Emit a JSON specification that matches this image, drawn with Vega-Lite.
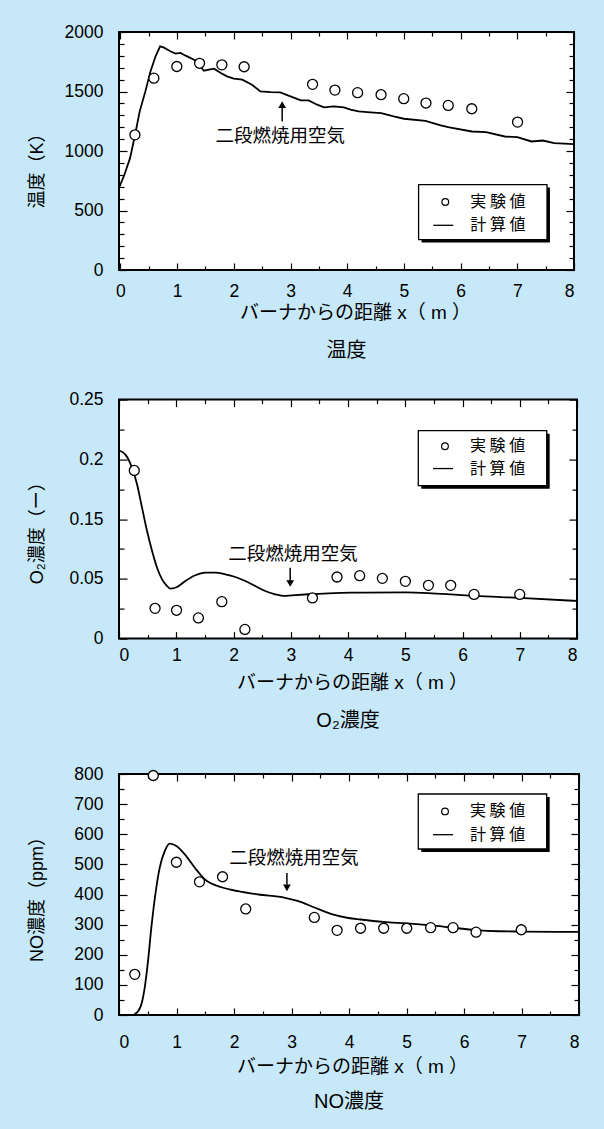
{
  "$schema": "https://vega.github.io/schema/vega-lite/v6.json",
  "background": "#c6e8f9",
  "padding": {"left": 26, "top": 22, "right": 20, "bottom": 17},
  "spacing": 129.6,
  "bounds": "flush",
  "datasets": {
    "temp": [
      {"x": -0.025, "y": 690, "series": "計算値"},
      {"x": 0.07, "y": 800, "series": "計算値"},
      {"x": 0.17, "y": 940, "series": "計算値"},
      {"x": 0.26, "y": 1140, "series": "計算値"},
      {"x": 0.34, "y": 1333, "series": "計算値"},
      {"x": 0.44, "y": 1501, "series": "計算値"},
      {"x": 0.53, "y": 1669, "series": "計算値"},
      {"x": 0.62, "y": 1796, "series": "計算値"},
      {"x": 0.70, "y": 1880, "series": "計算値"},
      {"x": 0.76, "y": 1871, "series": "計算値"},
      {"x": 0.88, "y": 1838, "series": "計算値"},
      {"x": 0.97, "y": 1818, "series": "計算値"},
      {"x": 1.06, "y": 1824, "series": "計算値"},
      {"x": 1.15, "y": 1801, "series": "計算値"},
      {"x": 1.24, "y": 1781, "series": "計算値"},
      {"x": 1.35, "y": 1753, "series": "計算値"},
      {"x": 1.47, "y": 1675, "series": "計算値"},
      {"x": 1.56, "y": 1684, "series": "計算値"},
      {"x": 1.65, "y": 1692, "series": "計算値"},
      {"x": 1.77, "y": 1655, "series": "計算値"},
      {"x": 1.88, "y": 1627, "series": "計算値"},
      {"x": 2.00, "y": 1608, "series": "計算値"},
      {"x": 2.15, "y": 1600, "series": "計算値"},
      {"x": 2.32, "y": 1557, "series": "計算値"},
      {"x": 2.47, "y": 1501, "series": "計算値"},
      {"x": 2.65, "y": 1495, "series": "計算値"},
      {"x": 2.82, "y": 1493, "series": "計算値"},
      {"x": 3.00, "y": 1459, "series": "計算値"},
      {"x": 3.18, "y": 1425, "series": "計算値"},
      {"x": 3.32, "y": 1425, "series": "計算値"},
      {"x": 3.47, "y": 1389, "series": "計算値"},
      {"x": 3.59, "y": 1366, "series": "計算値"},
      {"x": 3.76, "y": 1375, "series": "計算値"},
      {"x": 3.94, "y": 1366, "series": "計算値"},
      {"x": 4.06, "y": 1347, "series": "計算値"},
      {"x": 4.20, "y": 1333, "series": "計算値"},
      {"x": 4.41, "y": 1325, "series": "計算値"},
      {"x": 4.60, "y": 1318, "series": "計算値"},
      {"x": 4.82, "y": 1290, "series": "計算値"},
      {"x": 5.00, "y": 1271, "series": "計算値"},
      {"x": 5.38, "y": 1254, "series": "計算値"},
      {"x": 5.65, "y": 1215, "series": "計算値"},
      {"x": 5.80, "y": 1198, "series": "計算値"},
      {"x": 6.20, "y": 1164, "series": "計算値"},
      {"x": 6.45, "y": 1158, "series": "計算値"},
      {"x": 6.78, "y": 1122, "series": "計算値"},
      {"x": 7.00, "y": 1116, "series": "計算値"},
      {"x": 7.25, "y": 1080, "series": "計算値"},
      {"x": 7.45, "y": 1088, "series": "計算値"},
      {"x": 7.65, "y": 1066, "series": "計算値"},
      {"x": 8.00, "y": 1057, "series": "計算値"},
      {"x": 0.256, "y": 1136, "series": "実験値"},
      {"x": 0.59, "y": 1612, "series": "実験値"},
      {"x": 0.995, "y": 1710, "series": "実験値"},
      {"x": 1.396, "y": 1737, "series": "実験値"},
      {"x": 1.789, "y": 1724, "series": "実験値"},
      {"x": 2.182, "y": 1708, "series": "実験値"},
      {"x": 3.389, "y": 1560, "series": "実験値"},
      {"x": 3.783, "y": 1512, "series": "実験値"},
      {"x": 4.183, "y": 1490, "series": "実験値"},
      {"x": 4.597, "y": 1473, "series": "実験値"},
      {"x": 4.997, "y": 1440, "series": "実験値"},
      {"x": 5.389, "y": 1403, "series": "実験値"},
      {"x": 5.782, "y": 1383, "series": "実験値"},
      {"x": 6.197, "y": 1355, "series": "実験値"},
      {"x": 7.004, "y": 1243, "series": "実験値"}
    ],
    "o2": [
      {"x": 0, "y": 0.2074, "series": "計算値"},
      {"x": 0.112, "y": 0.204, "series": "計算値"},
      {"x": 0.229, "y": 0.1928, "series": "計算値"},
      {"x": 0.316, "y": 0.179, "series": "計算値"},
      {"x": 0.403, "y": 0.1594, "series": "計算値"},
      {"x": 0.49, "y": 0.13, "series": "計算値"},
      {"x": 0.578, "y": 0.0965, "series": "計算値"},
      {"x": 0.665, "y": 0.0686, "series": "計算値"},
      {"x": 0.752, "y": 0.0496, "series": "計算値"},
      {"x": 0.84, "y": 0.044, "series": "計算値"},
      {"x": 0.898, "y": 0.0418, "series": "計算値"},
      {"x": 1.014, "y": 0.0432, "series": "計算値"},
      {"x": 1.16, "y": 0.0482, "series": "計算値"},
      {"x": 1.334, "y": 0.056, "series": "計算値"},
      {"x": 1.508, "y": 0.0603, "series": "計算値"},
      {"x": 1.683, "y": 0.0603, "series": "計算値"},
      {"x": 1.857, "y": 0.0576, "series": "計算値"},
      {"x": 2.032, "y": 0.0531, "series": "計算値"},
      {"x": 2.206, "y": 0.0482, "series": "計算値"},
      {"x": 2.38, "y": 0.044, "series": "計算値"},
      {"x": 2.555, "y": 0.0398, "series": "計算値"},
      {"x": 2.729, "y": 0.0371, "series": "計算値"},
      {"x": 2.876, "y": 0.0357, "series": "計算値"},
      {"x": 3.02, "y": 0.0362, "series": "計算値"},
      {"x": 3.31, "y": 0.0371, "series": "計算値"},
      {"x": 3.66, "y": 0.0379, "series": "計算値"},
      {"x": 4.07, "y": 0.0384, "series": "計算値"},
      {"x": 5.0, "y": 0.0386, "series": "計算値"},
      {"x": 5.4, "y": 0.0381, "series": "計算値"},
      {"x": 5.8, "y": 0.037, "series": "計算値"},
      {"x": 6.2, "y": 0.0357, "series": "計算値"},
      {"x": 7.0, "y": 0.0341, "series": "計算値"},
      {"x": 8.0, "y": 0.0315, "series": "計算値"},
      {"x": 0.267, "y": 0.1907, "series": "実験値"},
      {"x": 0.63, "y": 0.0253, "series": "実験値"},
      {"x": 1.005, "y": 0.0237, "series": "実験値"},
      {"x": 1.387, "y": 0.0173, "series": "実験値"},
      {"x": 1.796, "y": 0.0309, "series": "実験値"},
      {"x": 2.199, "y": 0.0077, "series": "実験値"},
      {"x": 3.379, "y": 0.034, "series": "実験値"},
      {"x": 3.808, "y": 0.0531, "series": "実験値"},
      {"x": 4.204, "y": 0.0553, "series": "実験値"},
      {"x": 4.6, "y": 0.0508, "series": "実験値"},
      {"x": 5.002, "y": 0.0479, "series": "実験値"},
      {"x": 5.405, "y": 0.0446, "series": "実験値"},
      {"x": 5.794, "y": 0.0446, "series": "実験値"},
      {"x": 6.202, "y": 0.037, "series": "実験値"},
      {"x": 7.0, "y": 0.037, "series": "実験値"}
    ],
    "no": [
      {"x": 0.26, "y": 0, "series": "計算値"},
      {"x": 0.376, "y": 28, "series": "計算値"},
      {"x": 0.446, "y": 89, "series": "計算値"},
      {"x": 0.504, "y": 178, "series": "計算値"},
      {"x": 0.562, "y": 289, "series": "計算値"},
      {"x": 0.632, "y": 400, "series": "計算値"},
      {"x": 0.708, "y": 489, "series": "計算値"},
      {"x": 0.795, "y": 544, "series": "計算値"},
      {"x": 0.882, "y": 569, "series": "計算値"},
      {"x": 0.998, "y": 561, "series": "計算値"},
      {"x": 1.144, "y": 533, "series": "計算値"},
      {"x": 1.318, "y": 489, "series": "計算値"},
      {"x": 1.493, "y": 450, "series": "計算値"},
      {"x": 1.783, "y": 424, "series": "計算値"},
      {"x": 2.073, "y": 411, "series": "計算値"},
      {"x": 2.42, "y": 400, "series": "計算値"},
      {"x": 2.888, "y": 389, "series": "計算値"},
      {"x": 3.12, "y": 378, "series": "計算値"},
      {"x": 3.41, "y": 356, "series": "計算値"},
      {"x": 3.70, "y": 335, "series": "計算値"},
      {"x": 3.99, "y": 322, "series": "計算値"},
      {"x": 4.2, "y": 317, "series": "計算値"},
      {"x": 4.6, "y": 309, "series": "計算値"},
      {"x": 5.0, "y": 304, "series": "計算値"},
      {"x": 5.4, "y": 298, "series": "計算値"},
      {"x": 5.8, "y": 290, "series": "計算値"},
      {"x": 6.2, "y": 282, "series": "計算値"},
      {"x": 6.6, "y": 278, "series": "計算値"},
      {"x": 7.0, "y": 277, "series": "計算値"},
      {"x": 8.0, "y": 276, "series": "計算値"},
      {"x": 0.274, "y": 135, "series": "実験値"},
      {"x": 0.596, "y": 795, "series": "実験値"},
      {"x": 0.998, "y": 507, "series": "実験値"},
      {"x": 1.4, "y": 442, "series": "実験値"},
      {"x": 1.801, "y": 459, "series": "実験値"},
      {"x": 2.204, "y": 352, "series": "実験値"},
      {"x": 3.397, "y": 324, "series": "実験値"},
      {"x": 3.793, "y": 281, "series": "実験値"},
      {"x": 4.201, "y": 288, "series": "実験値"},
      {"x": 4.603, "y": 288, "series": "実験値"},
      {"x": 5.004, "y": 288, "series": "実験値"},
      {"x": 5.42, "y": 290, "series": "実験値"},
      {"x": 5.81, "y": 290, "series": "実験値"},
      {"x": 6.21, "y": 275, "series": "実験値"},
      {"x": 6.996, "y": 283, "series": "実験値"}
    ]
  },
  "vconcat": [
    {
      "width": 455,
      "height": 238,
      "data": {"name": "temp"},
      "title": {"text": "温度", "orient": "bottom", "offset": 18.5, "frame": "group"},
      "layer": [
        {
          "transform": [{"filter": "datum.series === '計算値'"}],
          "mark": {"type": "line", "stroke": "black", "strokeWidth": 1.8},
          "encoding": {
            "x": {"field": "x", "type": "quantitative", "scale": {"domain": [-0.025, 8], "nice": false, "zero": false},
              "axis": {"orient": "bottom", "values": [0,0.5,1,1.5,2,2.5,3,3.5,4,4.5,5,5.5,6,6.5,7,7.5,8],
                "labelExpr": "datum.value % 1 === 0 ? format(datum.value, 'd') : ''",
                "tickSize": {"condition": {"test": "datum.value % 1 === 0", "value": -7}, "value": -4},
                "labelPadding": 19, "labelFlush": true, "title": "バーナからの距離 x（ m ）", "titlePadding": 4, "titleX": 236}},
            "y": {"field": "y", "type": "quantitative", "scale": {"domain": [0, 2000], "nice": false},
              "axis": {"orient": "left", "values": [0,100,200,300,400,500,600,700,800,900,1000,1100,1200,1300,1400,1500,1600,1700,1800,1900,2000],
                "labelExpr": "datum.value % 500 === 0 ? format(datum.value, 'd') : ''",
                "tickSize": {"condition": {"test": "datum.value % 500 === 0", "value": -8}, "value": -5},
                "labelPadding": 24, "labelFlush": false, "title": "温度（K）", "titleX": -73, "titleY": 134}}
          }
        },
        {
          "transform": [{"filter": "datum.series === '実験値'"}],
          "mark": {"type": "point", "filled": true, "fill": "white", "stroke": "black", "strokeWidth": 1.3, "size": 100, "opacity": 1},
          "encoding": {
            "x": {"field": "x", "type": "quantitative",
              "axis": {"orient": "top", "values": [0,0.5,1,1.5,2,2.5,3,3.5,4,4.5,5,5.5,6,6.5,7,7.5,8], "labels": false, "title": null,
                "tickSize": {"condition": {"test": "datum.value % 1 === 0", "value": -7}, "value": -4}}},
            "y": {"field": "y", "type": "quantitative",
              "axis": {"orient": "right", "values": [0,100,200,300,400,500,600,700,800,900,1000,1100,1200,1300,1400,1500,1600,1700,1800,1900,2000], "labels": false, "title": null,
                "tickSize": {"condition": {"test": "datum.value % 500 === 0", "value": -8}, "value": -5}}}
          }
        },
        {
          "data": {"values": [{}]},
          "mark": {"type": "text", "font": "Noto Sans CJK JP", "fontSize": 18.5, "color": "black"},
          "encoding": {
            "x": {"datum": 2.82, "type": "quantitative", "axis": null},
            "y": {"datum": 1122, "type": "quantitative", "axis": null},
            "text": {"value": "二段燃焼用空気"}
          }
        },
        {
          "data": {"values": [{}]},
          "mark": {"type": "rule", "color": "black", "strokeWidth": 1.5},
          "encoding": {
            "x": {"datum": 2.853, "type": "quantitative", "axis": null},
            "y": {"datum": 1248, "type": "quantitative", "axis": null},
            "y2": {"datum": 1370}
          }
        },
        {
          "data": {"values": [{}]},
          "mark": {"type": "point", "shape": "triangle-up", "filled": true, "color": "black", "size": 60, "opacity": 1},
          "encoding": {
            "x": {"datum": 2.853, "type": "quantitative", "axis": null},
            "y": {"datum": 1389, "type": "quantitative", "axis": null}
          }
        },
        {
          "data": {"values": [{}]},
          "mark": {"type": "rect", "color": "black"},
          "encoding": {
            "x": {"datum": 5.312, "type": "quantitative", "axis": null}, "x2": {"datum": 7.576},
            "y": {"datum": 692.5, "type": "quantitative", "axis": null}, "y2": {"datum": 230.3}
          }
        },
        {
          "data": {"values": [{}]},
          "mark": {"type": "rect", "fill": "white", "stroke": "black", "strokeWidth": 1.3},
          "encoding": {
            "x": {"datum": 5.259, "type": "quantitative", "axis": null}, "x2": {"datum": 7.524},
            "y": {"datum": 717.7, "type": "quantitative", "axis": null}, "y2": {"datum": 255.5}
          }
        },
        {
          "data": {"values": [{}]},
          "mark": {"type": "point", "shape": "circle", "filled": true, "fill": "white", "stroke": "black", "strokeWidth": 1.2, "size": 45, "opacity": 1},
          "encoding": {
            "x": {"datum": 5.73, "type": "quantitative", "axis": null},
            "y": {"datum": 571.4, "type": "quantitative", "axis": null}
          }
        },
        {
          "data": {"values": [{}]},
          "mark": {"type": "rule", "color": "black", "strokeWidth": 1.3},
          "encoding": {
            "x": {"datum": 5.518, "type": "quantitative", "axis": null}, "x2": {"datum": 5.871},
            "y": {"datum": 375.6, "type": "quantitative", "axis": null}
          }
        },
        {
          "data": {"values": [{}]},
          "mark": {"type": "text", "font": "Noto Sans CJK JP", "fontSize": 16, "color": "black", "align": "left", "baseline": "middle"},
          "encoding": {
            "x": {"datum": 6.171, "type": "quantitative", "axis": null},
            "y": {"datum": 571.4, "type": "quantitative", "axis": null},
            "text": {"value": "実 験 値"}
          }
        },
        {
          "data": {"values": [{}]},
          "mark": {"type": "text", "font": "Noto Sans CJK JP", "fontSize": 16, "color": "black", "align": "left", "baseline": "middle"},
          "encoding": {
            "x": {"datum": 6.171, "type": "quantitative", "axis": null},
            "y": {"datum": 375.6, "type": "quantitative", "axis": null},
            "text": {"value": "計 算 値"}
          }
        }
      ],
      "resolve": {"axis": {"x": "independent", "y": "independent"}}
    },
    {
      "spacing": 135.4,
      "bounds": "flush",
      "vconcat": [
        {
          "width": 458,
          "height": 239,
          "data": {"name": "o2"},
          "title": {"text": "O₂濃度", "orient": "bottom", "offset": 18.5, "frame": "group"},
          "layer": [
            {
              "transform": [{"filter": "datum.series === '計算値'"}],
              "mark": {"type": "line", "stroke": "black", "strokeWidth": 1.8, "interpolate": "monotone"},
              "encoding": {
                "x": {"field": "x", "type": "quantitative", "scale": {"domain": [0, 8], "nice": false, "zero": false},
                  "axis": {"orient": "bottom", "values": [0,0.5,1,1.5,2,2.5,3,3.5,4,4.5,5,5.5,6,6.5,7,7.5,8],
                    "labelExpr": "datum.value % 1 === 0 ? format(datum.value, 'd') : ''",
                    "tickSize": {"condition": {"test": "datum.value % 1 === 0", "value": -7}, "value": -4},
                    "labelPadding": 14.5, "labelFlush": true, "title": "バーナからの距離 x（ m ）", "titlePadding": 10, "titleX": 233}},
                "y": {"field": "y", "type": "quantitative", "scale": {"domain": [0, 0.05, 0.15, 0.25], "range": [239, 179.25, 119.5, 0], "nice": false, "zero": false},
                  "axis": {"orient": "left", "values": [0,0.025,0.05,0.1,0.15,0.175,0.2,0.225,0.25],
                    "labelExpr": "indexof([0,0.05,0.15,0.2,0.25], datum.value) >= 0 ? format(datum.value, '~g') : ''",
                    "tickSize": {"condition": {"test": "indexof([0,0.05,0.15,0.2,0.25], datum.value) >= 0", "value": -8}, "value": -5},
                    "labelPadding": 24, "labelFlush": false, "title": "O₂濃度（ー）", "titleX": -73, "titleY": 128.7}}
              }
            },
            {
              "transform": [{"filter": "datum.series === '実験値'"}],
              "mark": {"type": "point", "filled": true, "fill": "white", "stroke": "black", "strokeWidth": 1.3, "size": 100, "opacity": 1},
              "encoding": {
                "x": {"field": "x", "type": "quantitative",
                  "axis": {"orient": "top", "values": [0,0.5,1,1.5,2,2.5,3,3.5,4,4.5,5,5.5,6,6.5,7,7.5,8], "labels": false, "title": null,
                    "tickSize": {"condition": {"test": "datum.value % 1 === 0", "value": -7}, "value": -4}}},
                "y": {"field": "y", "type": "quantitative",
                  "axis": {"orient": "right", "values": [0,0.025,0.05,0.1,0.15,0.175,0.2,0.225,0.25], "labels": false, "title": null,
                    "tickSize": {"condition": {"test": "indexof([0,0.05,0.15,0.2,0.25], datum.value) >= 0", "value": -8}, "value": -5}}}
              }
            },
            {
              "data": {"values": [{}]},
              "mark": {"type": "text", "font": "Noto Sans CJK JP", "fontSize": 18.5, "color": "black"},
              "encoding": {
                "x": {"datum": 3.04, "type": "quantitative", "axis": null},
                "y": {"datum": 0.092, "type": "quantitative", "axis": null},
                "text": {"value": "二段燃焼用空気"}
              }
            },
            {
              "data": {"values": [{}]},
              "mark": {"type": "rule", "color": "black", "strokeWidth": 1.5},
              "encoding": {
                "x": {"datum": 2.99, "type": "quantitative", "axis": null},
                "y": {"datum": 0.0686, "type": "quantitative", "axis": null},
                "y2": {"datum": 0.048}
              }
            },
            {
              "data": {"values": [{}]},
              "mark": {"type": "point", "shape": "triangle-down", "filled": true, "color": "black", "size": 60, "opacity": 1},
              "encoding": {
                "x": {"datum": 2.99, "type": "quantitative", "axis": null},
                "y": {"datum": 0.0461, "type": "quantitative", "axis": null}
              }
            },
            {
              "data": {"values": [{}]},
              "mark": {"type": "rect", "color": "black"},
              "encoding": {
                "x": {"datum": 5.28, "type": "quantitative", "axis": null}, "x2": {"datum": 7.523},
                "y": {"datum": 0.2215, "type": "quantitative", "axis": null}, "y2": {"datum": 0.1755}
              }
            },
            {
              "data": {"values": [{}]},
              "mark": {"type": "rect", "fill": "white", "stroke": "black", "strokeWidth": 1.3},
              "encoding": {
                "x": {"datum": 5.228, "type": "quantitative", "axis": null}, "x2": {"datum": 7.471},
                "y": {"datum": 0.2241, "type": "quantitative", "axis": null}, "y2": {"datum": 0.178}
              }
            },
            {
              "data": {"values": [{}]},
              "mark": {"type": "point", "shape": "circle", "filled": true, "fill": "white", "stroke": "black", "strokeWidth": 1.2, "size": 45, "opacity": 1},
              "encoding": {
                "x": {"datum": 5.694, "type": "quantitative", "axis": null},
                "y": {"datum": 0.2109, "type": "quantitative", "axis": null}
              }
            },
            {
              "data": {"values": [{}]},
              "mark": {"type": "rule", "color": "black", "strokeWidth": 1.3},
              "encoding": {
                "x": {"datum": 5.485, "type": "quantitative", "axis": null}, "x2": {"datum": 5.834},
                "y": {"datum": 0.1923, "type": "quantitative", "axis": null}
              }
            },
            {
              "data": {"values": [{}]},
              "mark": {"type": "text", "font": "Noto Sans CJK JP", "fontSize": 16, "color": "black", "align": "left", "baseline": "middle"},
              "encoding": {
                "x": {"datum": 6.131, "type": "quantitative", "axis": null},
                "y": {"datum": 0.2109, "type": "quantitative", "axis": null},
                "text": {"value": "実 験 値"}
              }
            },
            {
              "data": {"values": [{}]},
              "mark": {"type": "text", "font": "Noto Sans CJK JP", "fontSize": 16, "color": "black", "align": "left", "baseline": "middle"},
              "encoding": {
                "x": {"datum": 6.131, "type": "quantitative", "axis": null},
                "y": {"datum": 0.1923, "type": "quantitative", "axis": null},
                "text": {"value": "計 算 値"}
              }
            }
          ],
          "resolve": {"axis": {"x": "independent", "y": "independent"}}
        },
        {
          "width": 460,
          "height": 241,
          "data": {"name": "no"},
          "title": {"text": "NO濃度", "orient": "bottom", "offset": 15.5, "frame": "group"},
          "layer": [
            {
              "transform": [{"filter": "datum.series === '計算値'"}],
              "mark": {"type": "line", "stroke": "black", "strokeWidth": 1.8, "interpolate": "monotone"},
              "encoding": {
                "x": {"field": "x", "type": "quantitative", "scale": {"domain": [0, 8], "nice": false, "zero": false},
                  "axis": {"orient": "bottom", "values": [0,0.5,1,1.5,2,2.5,3,3.5,4,4.5,5,5.5,6,6.5,7,7.5,8],
                    "labelExpr": "datum.value % 1 === 0 ? format(datum.value, 'd') : ''",
                    "tickSize": {"condition": {"test": "datum.value % 1 === 0", "value": -7}, "value": -4},
                    "labelPadding": 25.4, "labelFlush": true, "title": "バーナからの距離 x（ m ）", "titlePadding": 7, "titleX": 233}},
                "y": {"field": "y", "type": "quantitative", "scale": {"domain": [0, 800], "nice": false},
                  "axis": {"orient": "left", "values": [0,50,100,150,200,250,300,350,400,450,500,550,600,650,700,750,800],
                    "labelExpr": "datum.value % 100 === 0 ? format(datum.value, 'd') : ''",
                    "tickSize": {"condition": {"test": "datum.value % 100 === 0", "value": -8}, "value": -5},
                    "labelPadding": 24, "labelFlush": false, "title": "NO濃度（ppm）", "titleX": -73, "titleY": 120.5}}
              }
            },
            {
              "transform": [{"filter": "datum.series === '実験値'"}],
              "mark": {"type": "point", "filled": true, "fill": "white", "stroke": "black", "strokeWidth": 1.3, "size": 100, "opacity": 1},
              "encoding": {
                "x": {"field": "x", "type": "quantitative",
                  "axis": {"orient": "top", "values": [0,0.5,1,1.5,2,2.5,3,3.5,4,4.5,5,5.5,6,6.5,7,7.5,8], "labels": false, "title": null,
                    "tickSize": {"condition": {"test": "datum.value % 1 === 0", "value": -7}, "value": -4}}},
                "y": {"field": "y", "type": "quantitative",
                  "axis": {"orient": "right", "values": [0,50,100,150,200,250,300,350,400,450,500,550,600,650,700,750,800], "labels": false, "title": null,
                    "tickSize": {"condition": {"test": "datum.value % 100 === 0", "value": -8}, "value": -5}}}
              }
            },
            {
              "data": {"values": [{}]},
              "mark": {"type": "text", "font": "Noto Sans CJK JP", "fontSize": 18.5, "color": "black"},
              "encoding": {
                "x": {"datum": 3.045, "type": "quantitative", "axis": null},
                "y": {"datum": 520, "type": "quantitative", "axis": null},
                "text": {"value": "二段燃焼用空気"}
              }
            },
            {
              "data": {"values": [{}]},
              "mark": {"type": "rule", "color": "black", "strokeWidth": 1.5},
              "encoding": {
                "x": {"datum": 2.92, "type": "quantitative", "axis": null},
                "y": {"datum": 471, "type": "quantitative", "axis": null},
                "y2": {"datum": 432}
              }
            },
            {
              "data": {"values": [{}]},
              "mark": {"type": "point", "shape": "triangle-down", "filled": true, "color": "black", "size": 60, "opacity": 1},
              "encoding": {
                "x": {"datum": 2.92, "type": "quantitative", "axis": null},
                "y": {"datum": 422, "type": "quantitative", "axis": null}
              }
            },
            {
              "data": {"values": [{}]},
              "mark": {"type": "rect", "color": "black"},
              "encoding": {
                "x": {"datum": 5.257, "type": "quantitative", "axis": null}, "x2": {"datum": 7.49},
                "y": {"datum": 723.6, "type": "quantitative", "axis": null}, "y2": {"datum": 541.1}
              }
            },
            {
              "data": {"values": [{}]},
              "mark": {"type": "rect", "fill": "white", "stroke": "black", "strokeWidth": 1.3},
              "encoding": {
                "x": {"datum": 5.205, "type": "quantitative", "axis": null}, "x2": {"datum": 7.438},
                "y": {"datum": 733.6, "type": "quantitative", "axis": null}, "y2": {"datum": 551}
              }
            },
            {
              "data": {"values": [{}]},
              "mark": {"type": "point", "shape": "circle", "filled": true, "fill": "white", "stroke": "black", "strokeWidth": 1.2, "size": 45, "opacity": 1},
              "encoding": {
                "x": {"datum": 5.67, "type": "quantitative", "axis": null},
                "y": {"datum": 675.8, "type": "quantitative", "axis": null}
              }
            },
            {
              "data": {"values": [{}]},
              "mark": {"type": "rule", "color": "black", "strokeWidth": 1.3},
              "encoding": {
                "x": {"datum": 5.461, "type": "quantitative", "axis": null}, "x2": {"datum": 5.809},
                "y": {"datum": 598.5, "type": "quantitative", "axis": null}
              }
            },
            {
              "data": {"values": [{}]},
              "mark": {"type": "text", "font": "Noto Sans CJK JP", "fontSize": 16, "color": "black", "align": "left", "baseline": "middle"},
              "encoding": {
                "x": {"datum": 6.104, "type": "quantitative", "axis": null},
                "y": {"datum": 675.8, "type": "quantitative", "axis": null},
                "text": {"value": "実 験 値"}
              }
            },
            {
              "data": {"values": [{}]},
              "mark": {"type": "text", "font": "Noto Sans CJK JP", "fontSize": 16, "color": "black", "align": "left", "baseline": "middle"},
              "encoding": {
                "x": {"datum": 6.104, "type": "quantitative", "axis": null},
                "y": {"datum": 598.5, "type": "quantitative", "axis": null},
                "text": {"value": "計 算 値"}
              }
            }
          ],
          "resolve": {"axis": {"x": "independent", "y": "independent"}}
        }
      ]
    }
  ],
  "config": {
    "view": {"fill": "white", "stroke": "black", "strokeWidth": 2},
    "axis": {
      "grid": false, "domain": false,
      "labelFont": "Liberation Sans", "labelFontSize": 17.5, "labelColor": "#000",
      "tickColor": "#000", "tickWidth": 1.2,
      "titleFont": "Liberation Sans, Noto Sans CJK JP", "titleFontWeight": "normal", "titleColor": "#000", "titleFontSize": 19
    },
    "axisY": {"titleFontSize": 18},
    "title": {"font": "Liberation Sans, Noto Sans CJK JP", "fontSize": 20, "fontWeight": "normal", "color": "#000"}
  }
}
